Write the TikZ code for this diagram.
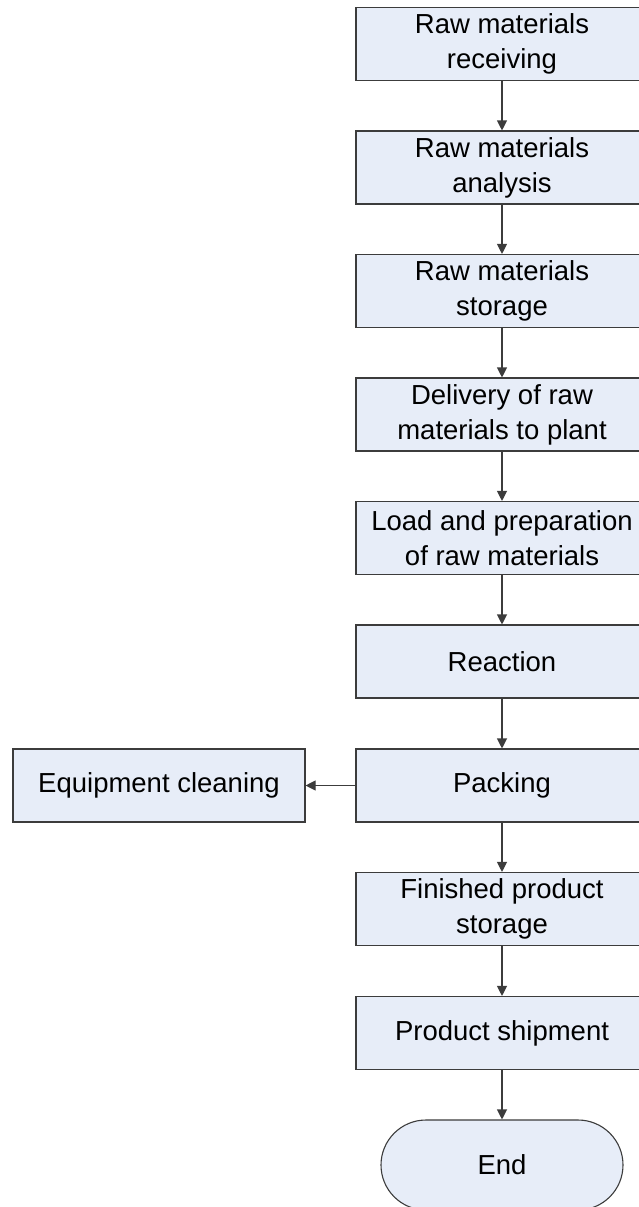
\documentclass[tikz,border=0pt]{standalone}
\usepackage{fontspec}
\setmainfont{Liberation Sans}
\usepackage{tikz}
\usetikzlibrary{arrows.meta, shapes.misc}

\definecolor{boxfill}{RGB}{231,237,248}
\definecolor{edgegray}{RGB}{60,60,60}

\begin{document}
\begin{tikzpicture}[x=1pt, y=-1pt,
    stage/.style={draw=edgegray, fill=boxfill, line width=1.1pt, minimum width=292pt,
      minimum height=73pt, inner sep=0pt, align=center,
      font=\fontsize{27.5}{35}\selectfont},
    arr/.style={-{Triangle[length=10pt, width=10pt]}, line width=1.1pt, draw=edgegray}]
  \useasboundingbox (0,0) rectangle (639,1207);
  \node[stage] (recv) at (502,44) {Raw materials\\receiving};
  \node[stage] (anal) at (502,167.5) {Raw materials\\analysis};
  \node[stage] (stor) at (502,291) {Raw materials\\storage};
  \node[stage] (deliv) at (502,414.5) {Delivery of raw\\materials to plant};
  \node[stage] (load) at (502,538) {Load and preparation\\of raw materials};
  \node[stage] (react) at (502,661.5) {Reaction};
  \node[stage] (pack) at (502,785.5) {Packing};
  \node[stage] (clean) at (159,785.5) {Equipment cleaning};
  \node[stage] (fin) at (502,909) {Finished product\\storage};
  \node[stage] (ship) at (502,1033) {Product shipment};
  \node[stage, rounded rectangle, minimum width=242pt, minimum height=90pt] (end) at (502,1165) {End};
  \draw[arr] (recv) -- (anal);
  \draw[arr] (anal) -- (stor);
  \draw[arr] (stor) -- (deliv);
  \draw[arr] (deliv) -- (load);
  \draw[arr] (load) -- (react);
  \draw[arr] (react) -- (pack);
  \draw[arr] (pack) -- (clean);
  \draw[arr] (pack) -- (fin);
  \draw[arr] (fin) -- (ship);
  \draw[arr] (ship) -- (end);
\end{tikzpicture}
\end{document}
